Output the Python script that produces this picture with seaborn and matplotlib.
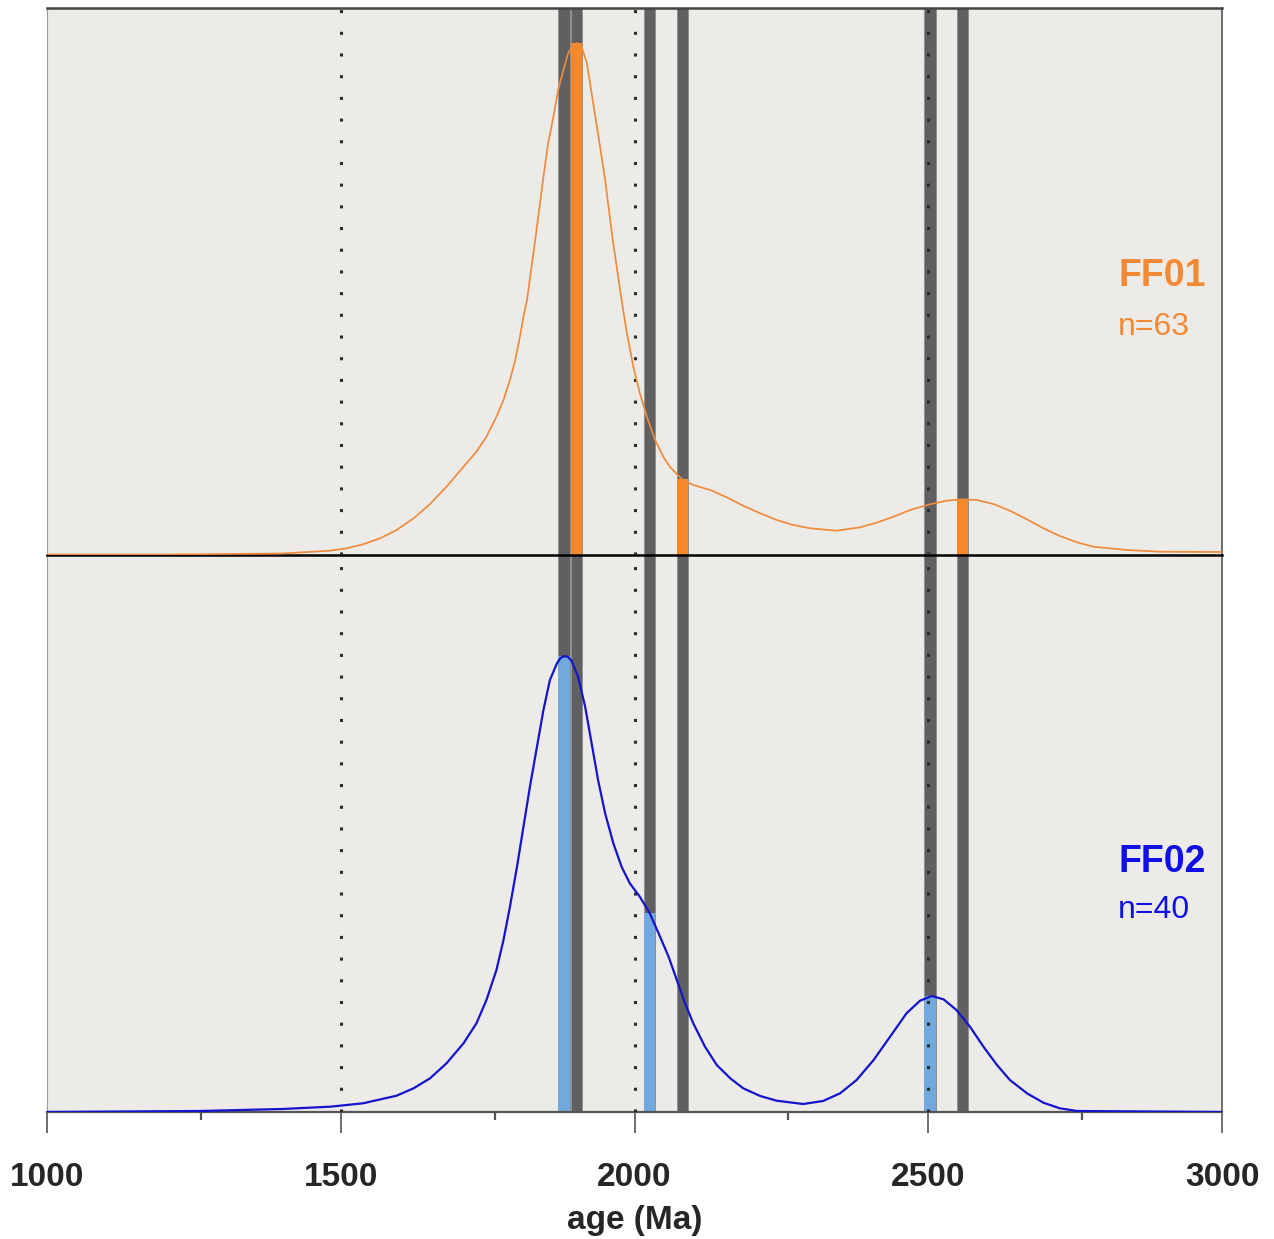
import numpy as np
import pandas as pd
import seaborn as sns
import matplotlib
matplotlib.use("Agg")
import matplotlib.pyplot as plt

# ---------------- data ----------------
ff01_age = [1000, 1200, 1400, 1482, 1510, 1538, 1567, 1595, 1624, 1652, 1680, 1709, 1731, 1748,
            1765, 1777, 1788, 1797, 1805, 1811, 1817, 1831, 1845, 1853, 1862, 1870, 1879, 1887,
            1896, 1902, 1910, 1919, 1927, 1936, 1944, 1950, 1963, 1978, 1987, 1998, 2009, 2021,
            2035, 2049, 2060, 2081, 2100, 2129, 2157, 2185, 2214, 2242, 2270, 2299, 2344, 2384,
            2412, 2441, 2469, 2503, 2531, 2557, 2583, 2611, 2639, 2668, 2696, 2724, 2753, 2781,
            2838, 2895, 3000]
ff01_dens = [0.5, 0.5, 1.5, 4.3, 6.7, 10.7, 16.7, 25, 36.7, 51, 68.3, 88.3, 103.3, 118.3,
             138.3, 155, 175, 195, 218.3, 238.3, 255, 315, 378.3, 411.7, 438.3, 465, 485, 501.7,
             510, 512, 508.3, 491.7, 461.7, 428.3, 398.3, 375, 315, 255, 222, 188.3, 162, 138.3,
             115, 98.3, 88.3, 75.7, 70, 65, 57.7, 49.3, 41.7, 35, 30, 26.7, 24.3, 27.7,
             32.3, 38.3, 45, 50.7, 54.3, 55.7, 55, 51, 44.3, 35.7, 26.7, 19, 12.7, 8.3,
             5, 3.3, 3]

ff02_age = [1000, 1260, 1400, 1482, 1538, 1595, 1624, 1652, 1680, 1709, 1731, 1748, 1765, 1777,
            1788, 1800, 1811, 1822, 1834, 1845, 1856, 1868, 1874, 1881, 1887, 1893, 1904, 1916,
            1927, 1938, 1950, 1964, 1978, 1992, 2009, 2026, 2043, 2058, 2072, 2086, 2100, 2120,
            2140, 2163, 2185, 2214, 2242, 2287, 2321, 2350, 2378, 2407, 2435, 2463, 2486, 2506,
            2526, 2548, 2571, 2594, 2617, 2639, 2668, 2696, 2724, 2753, 3000]
ff02_dens = [0, 1, 3, 5.3, 8.7, 16.3, 23.7, 33.7, 48.7, 68.7, 88.7, 112, 142, 172,
             205.3, 245.3, 285.3, 325.3, 365.3, 402, 432, 448.7, 454, 456, 455, 451, 435.3, 405.3,
             368.7, 332, 298.7, 268.7, 245.3, 228.7, 215.3, 198.7, 176, 155.3, 132, 108.7, 88.7, 65.3,
             47, 33.7, 23.7, 16, 11.3, 8, 11, 18.7, 32, 52, 75.3, 98.7, 111.3, 116,
             112.7, 102, 85.3, 65.3, 47, 32, 18.7, 9.3, 3.7, 1, 0]

ff01_peak_age = [1901, 2082, 2558]
ff01_peak_h = [512, 76, 56]
ff02_peak_age = [1880, 2025, 2503]
ff02_peak_h = [456, 199, 116]

ref_ages = [1880, 1901, 2025, 2082, 2503, 2558]
dotted_ages = [1500, 2000, 2500]
xticks = [1000, 1500, 2000, 2500, 3000]
minor_xticks = [1262, 1762, 2262, 2762]

samples = ["FF01", "FF02"]
sample_n = [63, 40]

# ---------------- style ----------------
sns.set_theme(style="white")
plt.rcParams['font.family'] = ['Liberation Sans', 'DejaVu Sans']

BG = "#ECEBE7"
GRAY = "#606062"
ORANGE_LINE = "#F08A3C"
ORANGE_BAR = "#F5882A"
BLUE_LINE = "#1414CC"
BLUE_BAR = "#71A9DE"
ORANGE_TXT = "#F28A35"
BLUE_TXT = "#1010E6"
BAR_W = 19

W, H = 1274, 1239
fig = plt.figure(figsize=(W / 100, H / 100), dpi=100)
left = 47 / W
width = (1222 - 47) / W
ax1 = fig.add_axes([left, 1 - 555 / H, width, (555 - 8) / H])
ax2 = fig.add_axes([left, 1 - 1112 / H, width, (1112 - 555) / H], sharex=ax1)
ax1.set_zorder(3)

ymax1 = 547
ymax2 = 557

df1 = pd.DataFrame({"age": ff01_age, "density": ff01_dens})
df2 = pd.DataFrame({"age": ff02_age, "density": ff02_dens})

panels = [
    (ax1, df1, ymax1, ORANGE_LINE, ORANGE_BAR, ff01_peak_age, ff01_peak_h, ORANGE_TXT, 1.25),
    (ax2, df2, ymax2, BLUE_LINE, BLUE_BAR, ff02_peak_age, ff02_peak_h, BLUE_TXT, 1.6),
]

for i, (ax, df, ymax, lc, bc, pa, ph, tc, lw) in enumerate(panels):
    ax.set_facecolor(BG)
    ax.set_xlim(1000, 3000)
    ax.set_ylim(0, ymax)
    for a in ref_ages:
        ax.axvspan(a - BAR_W / 2, a + BAR_W / 2, color=GRAY, ec="#8c8c8c", lw=0.6, zorder=1)
    ax.bar(pa, ph, width=BAR_W, color=bc, edgecolor="none", zorder=2)
    for a in dotted_ages:
        ax.axvline(a, color="#2b2b2b", lw=2.2, linestyle=(0, (1, 6.1)), zorder=3)
    sns.lineplot(data=df, x="age", y="density", ax=ax, color=lc, lw=lw, zorder=4)
    ax.set_yticks([])
    ax.set_ylabel("")
    ax.text(0.9115, 0.51 if i == 0 else 0.449, samples[i], transform=ax.transAxes,
            color=tc, fontsize=27, fontweight="bold", ha="left", va="center")
    ax.text(0.9115, 0.417 if i == 0 else 0.363, f"n={sample_n[i]}", transform=ax.transAxes,
            color=tc, fontsize=23, ha="left", va="center")

# spines
for s in ["top", "right", "left", "bottom"]:
    ax1.spines[s].set_visible(True)
    ax2.spines[s].set_visible(True)
ax1.spines["top"].set_color("#444444"); ax1.spines["top"].set_linewidth(1.8)
ax1.spines["right"].set_color("#555555"); ax1.spines["right"].set_linewidth(1.2)
ax1.spines["left"].set_color("#9a9a9a"); ax1.spines["left"].set_linewidth(0.8)
ax1.spines["bottom"].set_color("#000000"); ax1.spines["bottom"].set_linewidth(1.8)
ax2.spines["top"].set_visible(False)
ax2.spines["right"].set_color("#555555"); ax2.spines["right"].set_linewidth(1.2)
ax2.spines["left"].set_color("#9a9a9a"); ax2.spines["left"].set_linewidth(0.8)
ax2.spines["bottom"].set_color("#555555"); ax2.spines["bottom"].set_linewidth(1.6)

ax1.tick_params(axis="x", which="both", bottom=False, labelbottom=False)
ax1.set_xlabel("")

ax2.set_xticks(xticks)
ax2.set_xticks(minor_xticks, minor=True)
ax2.set_xticklabels([str(t) for t in xticks], fontsize=24, fontweight="bold")
ax2.tick_params(axis="x", which="major", bottom=True, direction="out", length=15,
                width=1.2, color="#555555", pad=21)
ax2.tick_params(axis="x", which="minor", bottom=True, direction="out", length=6,
                width=1.6, color="#555555")
ax2.set_xlabel("age (Ma)", fontsize=24, fontweight="bold", labelpad=9)

fig.savefig("out.png", dpi=100, facecolor="white")
